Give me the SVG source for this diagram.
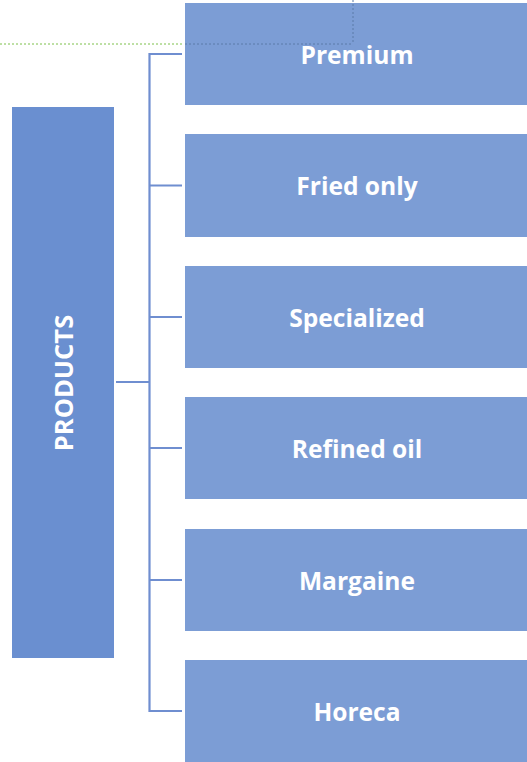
<svg xmlns="http://www.w3.org/2000/svg" width="527" height="762" viewBox="0 0 527 762">
<style>
.box{fill:#7C9DD5;}
.main{fill:#6A8FD0;}
.lbl{font-family:"Open Sans","Liberation Sans",sans-serif;font-weight:bold;font-size:24.6px;fill:#FFFFFF;text-anchor:middle;dominant-baseline:central;}
.big{font-size:25.5px;}
.con{stroke:#6F8ED0;stroke-width:2.2;fill:none;}
</style>
<rect width="527" height="762" fill="#FFFFFF"/>
<g id="products">
<rect class="main" x="12" y="107" width="102" height="551"/>
<text class="lbl big" transform="translate(63,383) rotate(-90)" x="0" y="0">PRODUCTS</text>
</g>
<g id="premium"><rect class="box" x="185" y="3" width="342" height="102"/><text class="lbl" x="357" y="54">Premium</text></g>
<g id="fried"><rect class="box" x="185" y="134" width="342" height="103"/><text class="lbl" x="357" y="185.5">Fried only</text></g>
<g id="specialized"><rect class="box" x="185" y="266" width="342" height="102"/><text class="lbl" x="357" y="317">Specialized</text></g>
<g id="refined"><rect class="box" x="185" y="397" width="342" height="102"/><text class="lbl" x="357" y="448">Refined oil</text></g>
<g id="margaine"><rect class="box" x="185" y="529" width="342" height="102"/><text class="lbl" x="357" y="580">Margaine</text></g>
<g id="horeca"><rect class="box" x="185" y="660" width="342" height="102"/><text class="lbl" x="357" y="711">Horeca</text></g>
<g id="guides">
<line x1="0" y1="44" x2="184" y2="44" stroke="#7CC04A" stroke-width="1" stroke-dasharray="2,2"/>
<line x1="185" y1="44" x2="353" y2="44" stroke="#5A7BA8" stroke-width="1" stroke-dasharray="2,2"/>
<line x1="353" y1="0" x2="353" y2="44" stroke="#5A7BA8" stroke-width="1" stroke-dasharray="2,2"/>
</g>
<g id="connectors">
<polyline class="con" points="182,54 149.5,54 149.5,711 182,711"/>
<line class="con" x1="116" y1="382" x2="149.5" y2="382"/>
<line class="con" x1="149.5" y1="185.5" x2="182" y2="185.5"/>
<line class="con" x1="149.5" y1="317" x2="182" y2="317"/>
<line class="con" x1="149.5" y1="448" x2="182" y2="448"/>
<line class="con" x1="149.5" y1="580" x2="182" y2="580"/>
</g>
</svg>
